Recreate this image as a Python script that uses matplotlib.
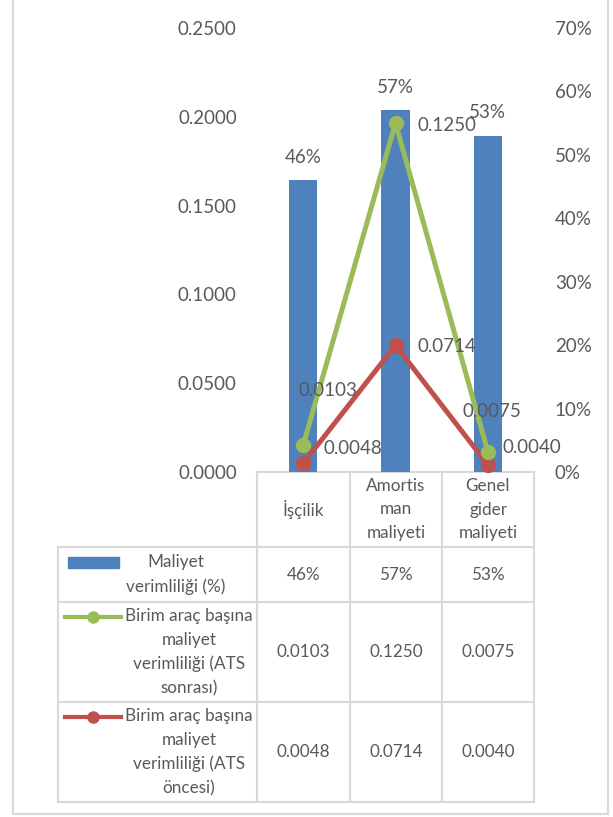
import matplotlib
matplotlib.use("Agg")
import matplotlib.pyplot as plt
from matplotlib.patches import Rectangle
from matplotlib.lines import Line2D

plt.rcParams["font.family"] = ["Lato", "DejaVu Sans"]

categories = ["İşçilik", "Amortis\nman\nmaliyeti", "Genel\ngider\nmaliyeti"]
maliyet_verim = [0.46, 0.57, 0.53]
ats_sonrasi = [0.0103, 0.1250, 0.0075]
ats_oncesi = [0.0048, 0.0714, 0.0040]
series_names = [
    "Maliyet\nverimliliği (%)",
    "Birim araç başına\nmaliyet\nverimliliği (ATS\nsonrası)",
    "Birim araç başına\nmaliyet\nverimliliği (ATS\nöncesi)",
]

BLUE = "#4F81BD"
GREEN = "#9BBB59"
RED = "#C0504D"
TXT = "#595959"
GRID = "#D9D9D9"

W, H = 613, 817
fig = plt.figure(figsize=(W / 100, H / 100), dpi=100)

# plot area in pixel coords
px0, px1, py0, py1 = 257, 534, 28, 472


def frac(x0, y0, x1, y1):
    return [x0 / W, 1 - y1 / H, (x1 - x0) / W, (y1 - y0) / H]


# overlay for border + data table
ov = fig.add_axes([0, 0, 1, 1], zorder=-1)
ov.set_xlim(0, W)
ov.set_ylim(H, 0)
ov.axis("off")
ov.add_patch(Rectangle((13, -3), 595, 817, fill=False, ec=GRID, lw=1.5))

ax = fig.add_axes(frac(px0, py0, px1, py1), zorder=2)
axr = ax.twinx()
axr.set_zorder(1)
ax.patch.set_visible(False)

x = range(len(categories))
axr.bar(x, maliyet_verim, width=0.31, color=BLUE)
axr.set_ylim(0, 0.70)
axr.set_yticks([i / 10 for i in range(8)])
axr.set_yticklabels([f"{v:.0%}" for v in axr.get_yticks()])
for i, v in enumerate(maliyet_verim):
    axr.annotate(f"{v:.0%}", (i, v), xytext=(0, 23), textcoords="offset pixels",
                 ha="center", va="center", fontsize=13.5, color=TXT)

# stacked lines: red at the bottom, green stacked on red
stacked = [a + b for a, b in zip(ats_oncesi, ats_sonrasi)]
ax.plot(x, ats_oncesi, color=RED, lw=3.6, marker="o", ms=10, zorder=3)
ax.plot(x, stacked, color=GREEN, lw=3.6, marker="o", ms=10, zorder=4)
ax.set_ylim(0, 0.25)
ax.set_yticks([i * 0.05 for i in range(6)])
ax.set_yticklabels([f"{v:.4f}" for v in ax.get_yticks()])
ax.set_xlim(-0.5, 2.5)
ax.set_xticks([])

green_off = [(-5, 55), (22, -2), (-25, 40)]
red_off = [(20, 15), (22, -1), (15, 17)]
for i in x:
    ax.annotate(f"{ats_sonrasi[i]:.4f}", (i, stacked[i]), xytext=green_off[i],
                textcoords="offset pixels", ha="left", va="center",
                fontsize=13.5, color=TXT, zorder=5)
    ax.annotate(f"{ats_oncesi[i]:.4f}", (i, ats_oncesi[i]), xytext=red_off[i],
                textcoords="offset pixels", ha="left", va="center",
                fontsize=13.5, color=TXT, zorder=5)

for a in (ax, axr):
    for s in a.spines.values():
        s.set_visible(False)
ax.tick_params(axis="y", length=0, pad=14.5, labelsize=13.5, labelcolor=TXT)
axr.tick_params(axis="y", length=0, pad=15, labelsize=13.5, labelcolor=TXT)

# data table
col_x = [257, 350, 442, 534]
row_y = [472, 547, 602, 702, 802]
tleft = 58
lk = dict(color=GRID, lw=1.5)
ov.plot([col_x[0], col_x[-1]], [row_y[0], row_y[0]], **lk)
for yy in row_y[1:]:
    ov.plot([tleft, col_x[-1]], [yy, yy], **lk)
for xx in col_x:
    ov.plot([xx, xx], [row_y[0], row_y[-1]], **lk)
ov.plot([tleft, tleft], [row_y[1], row_y[-1]], **lk)

col_c = [(col_x[i] + col_x[i + 1]) / 2 for i in range(3)]
row_c = [(row_y[i] + row_y[i + 1]) / 2 for i in range(4)]
tfs = 12.3
lsp = 1.6
for i, c in enumerate(categories):
    ov.text(col_c[i], row_c[0], c, ha="center", va="center", fontsize=tfs,
            color=TXT, linespacing=lsp)
rows = [[f"{v:.0%}" for v in maliyet_verim],
        [f"{v:.4f}" for v in ats_sonrasi],
        [f"{v:.4f}" for v in ats_oncesi]]
for r, vals in enumerate(rows):
    for i, s in enumerate(vals):
        ov.text(col_c[i], row_c[r + 1], s, ha="center", va="center",
                fontsize=tfs, color=TXT)

# legend keys inside the table
ov.add_patch(Rectangle((68, 557), 51, 11, color=BLUE))
ov.text(176, row_c[1], series_names[0], ha="center", va="center",
        fontsize=tfs, color=TXT, linespacing=lsp)
for r, col in ((2, GREEN), (3, RED)):
    ky = row_y[r] + 15
    ov.add_line(Line2D([65, 121], [ky, ky], color=col, lw=3))
    ov.add_line(Line2D([93], [ky], color=col, marker="o", ms=8))
    ov.text(189, row_c[r], series_names[r - 1], ha="center", va="center",
            fontsize=tfs, color=TXT, linespacing=lsp)

fig.savefig("out.png", dpi=100)
